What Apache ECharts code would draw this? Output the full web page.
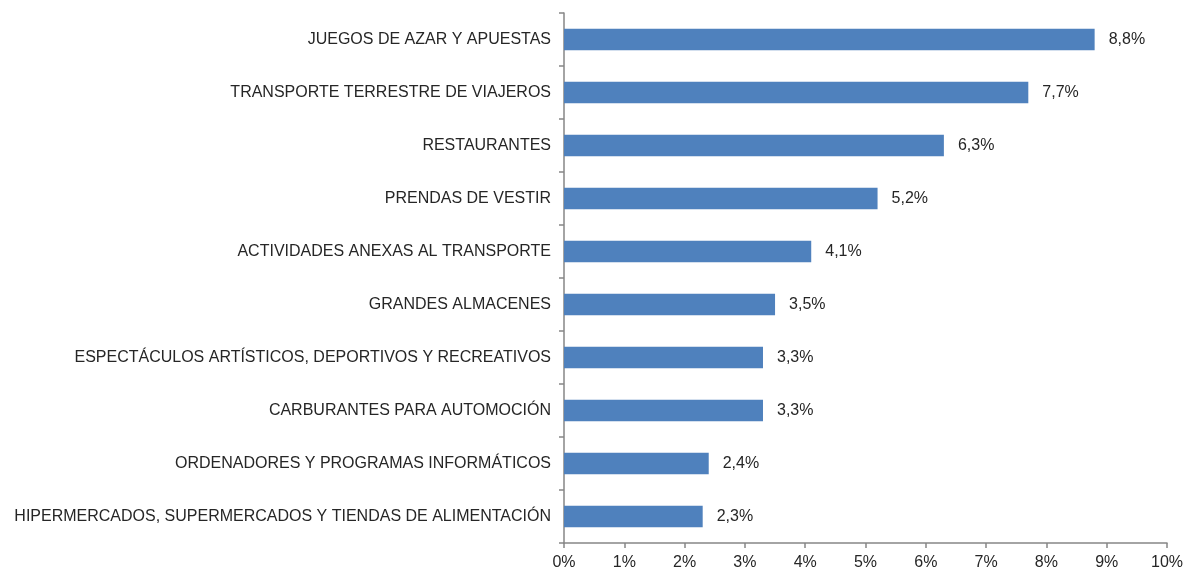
<!DOCTYPE html>
<html>
<head>
<meta charset="utf-8">
<script src="https://cdn.jsdelivr.net/npm/echarts@6/dist/echarts.min.js"></script>
<style>
  html, body { margin: 0; padding: 0; background: #fff; }
  #chart { width: 1184px; height: 569px; }
</style>
</head>
<body>
<div id="chart"></div>
<script>
// categorias, de arriba abajo
const categories = [
  'JUEGOS DE AZAR Y APUESTAS',
  'TRANSPORTE TERRESTRE DE VIAJEROS',
  'RESTAURANTES',
  'PRENDAS DE VESTIR',
  'ACTIVIDADES ANEXAS AL TRANSPORTE',
  'GRANDES ALMACENES',
  'ESPECTÁCULOS ARTÍSTICOS, DEPORTIVOS Y RECREATIVOS',
  'CARBURANTES PARA AUTOMOCIÓN',
  'ORDENADORES Y PROGRAMAS INFORMÁTICOS',
  'HIPERMERCADOS, SUPERMERCADOS Y TIENDAS DE ALIMENTACIÓN'
]
const values = [8.8, 7.7, 6.3, 5.2, 4.1, 3.5, 3.3, 3.3, 2.4, 2.3]
const axisMin = 0
const axisMax = 10
const axisStep = 1

const axisColor = '#868686'
const textStyle = { color: '#262626', fontFamily: 'Liberation Sans, Arial, sans-serif', fontSize: 16 }

let myChart = echarts.init(document.getElementById('chart'))
myChart.setOption({
  animation: false,
  grid: { left: 564, right: 17, top: 13, bottom: 26, containLabel: false, outerBoundsMode: 'none' },
  xAxis: {
    type: 'value',
    min: axisMin,
    max: axisMax,
    interval: axisStep,
    splitLine: { show: false },
    axisLine: { show: true, lineStyle: { color: axisColor, width: 1.5 } },
    axisTick: { show: true, length: 5, lineStyle: { color: axisColor, width: 1.5 } },
    axisLabel: Object.assign({ margin: 12, formatter: v => v + '%' }, textStyle)
  },
  yAxis: {
    type: 'category',
    inverse: true,
    data: categories,
    axisLine: { show: true, lineStyle: { color: axisColor, width: 1.5 } },
    axisTick: { show: true, length: 5, lineStyle: { color: axisColor, width: 1.5 } },
    axisLabel: Object.assign({ margin: 13, padding: [2, 0, 0, 0] }, textStyle)
  },
  series: [{
    type: 'bar',
    data: values,
    barCategoryGap: '59%',
    itemStyle: { color: '#4F81BD' },
    label: Object.assign({
      show: true,
      position: 'right',
      distance: 14,
      padding: [2, 0, 0, 0]
    }, textStyle, {
      formatter: p => p.value.toFixed(1).replace('.', ',') + '%'
    })
  }]
})
</script>
</body>
</html>
